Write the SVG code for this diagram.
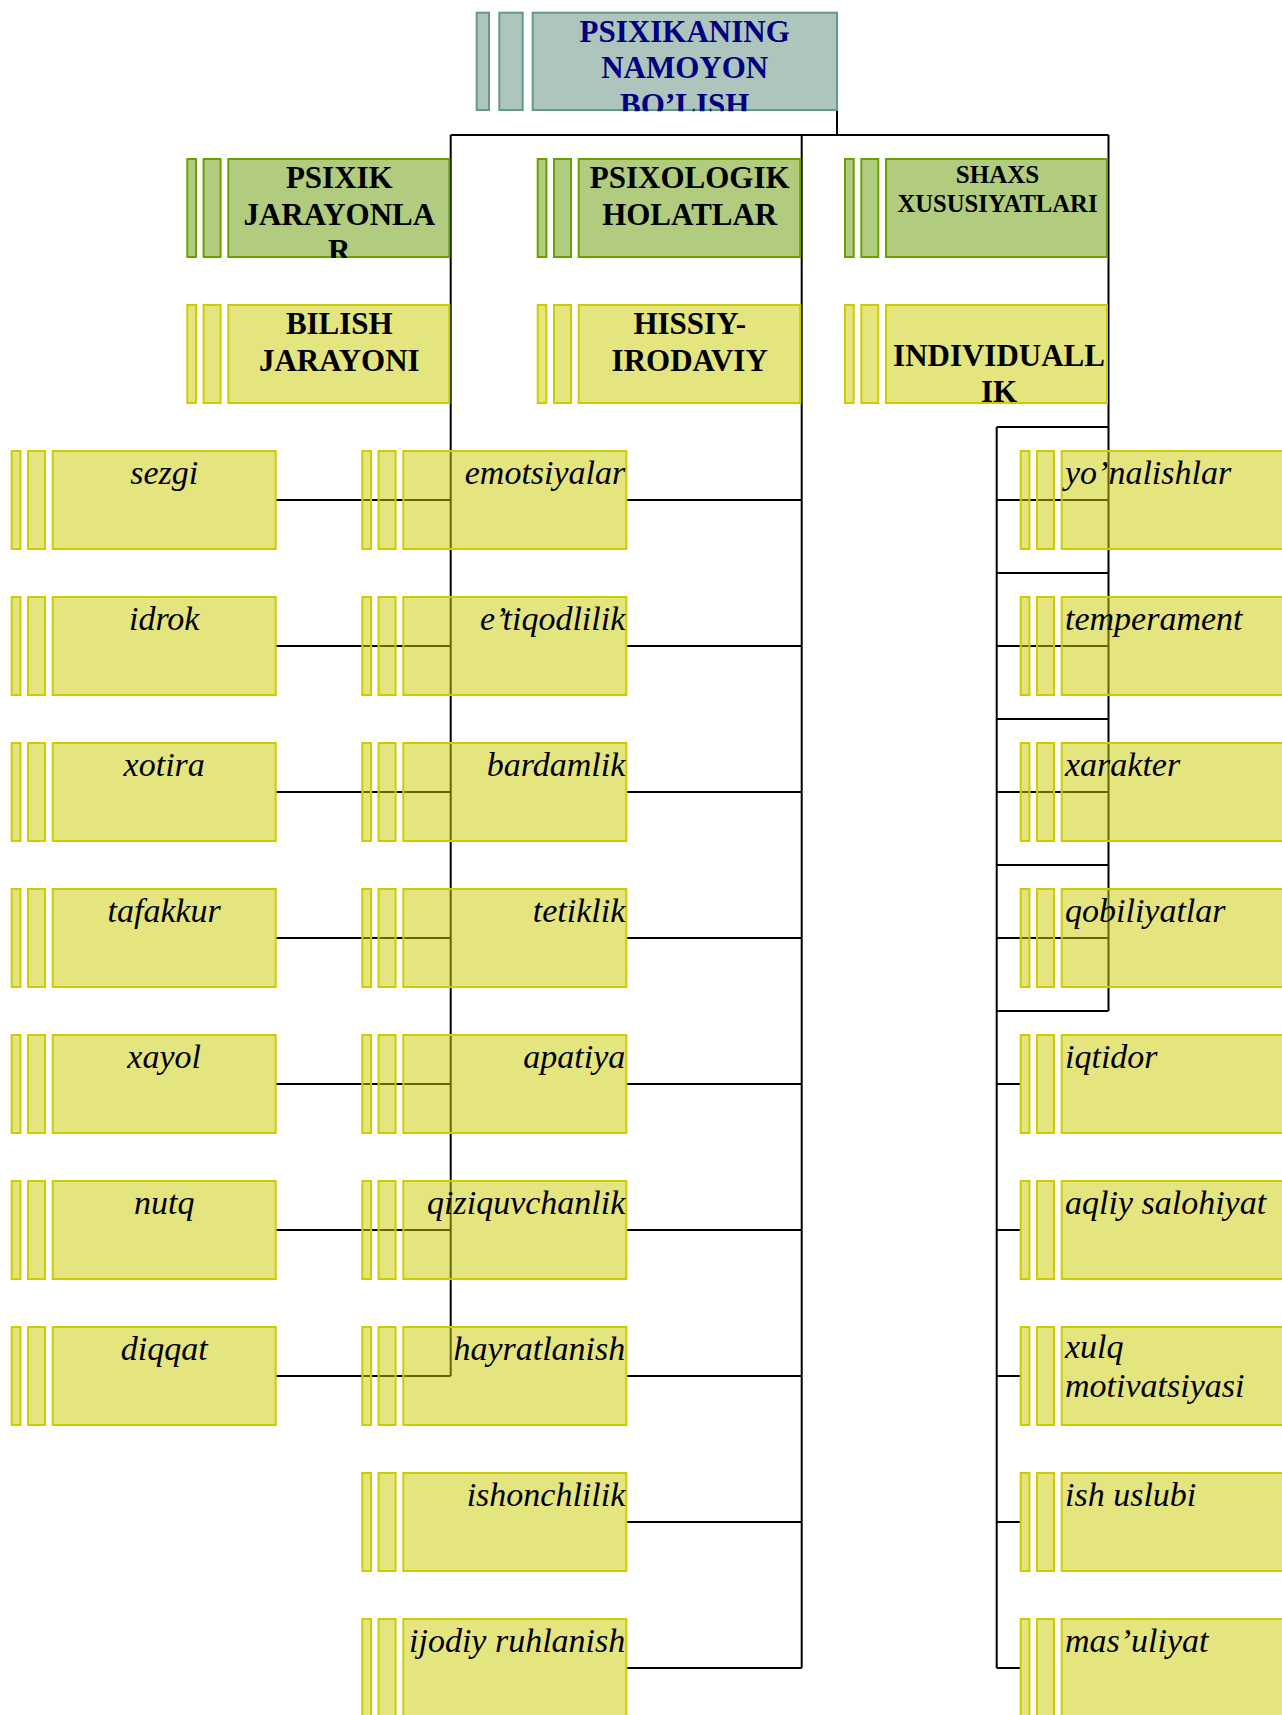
<svg xmlns="http://www.w3.org/2000/svg" xmlns:xlink="http://www.w3.org/1999/xlink" width="1282" height="1715" viewBox="0 0 1282 1715">
  <style>
    .conn { fill: none; stroke: #000; stroke-width: 2; }
    .y { fill: #cccc00; fill-opacity: 0.5; stroke: #cccc00; stroke-width: 2; }
    .g { fill: #669900; fill-opacity: 0.5; stroke: #6aa000; stroke-width: 2; }
    .r { fill: #aec5bd; stroke: #669985; stroke-width: 2; }
    .hd { font-family: "Liberation Serif", "Times New Roman", serif; font-weight: bold; font-size: 31px; text-anchor: middle; fill: #000; }
    .root { fill: #000080; }
    .it { font-family: "Liberation Serif", "Times New Roman", serif; font-style: italic; font-size: 34px; fill: #000; }
    .mid { text-anchor: middle; }
    .end { text-anchor: end; }
  </style>
  <defs>
    <!-- the pair of narrow stripes in front of every box -->
    <g id="bars-y">
      <rect class="y" x="0" y="0" width="8.7" height="98"/>
      <rect class="y" x="16.3" y="0" width="17" height="98"/>
    </g>
    <g id="bars-g">
      <rect class="g" x="0" y="0" width="8.7" height="98"/>
      <rect class="g" x="16.3" y="0" width="17" height="98"/>
    </g>
    <clipPath id="clip-main" clipPathUnits="userSpaceOnUse">
      <rect x="40" y="-1" width="225" height="100"/>
    </clipPath>
    <clipPath id="clip-root" clipPathUnits="userSpaceOnUse">
      <rect x="55" y="-1" width="306" height="99.5"/>
    </clipPath>
  </defs>

  <!-- connectors (drawn first so the translucent boxes tint them) -->
  <g id="connectors" class="conn">
    <path d="M837,110 V135 M450.7,135 H1108.5"/>
    <!-- cognitive processes -->
    <path d="M450.7,135 V1376"/>
    <path d="M276,500 H450.7 M276,646 H450.7 M276,792 H450.7 M276,938 H450.7 M276,1084 H450.7 M276,1230 H450.7 M276,1376 H450.7"/>
    <!-- emotional-volitional states -->
    <path d="M801.7,135 V1668"/>
    <path d="M626.7,500 H801.7 M626.7,646 H801.7 M626.7,792 H801.7 M626.7,938 H801.7 M626.7,1084 H801.7 M626.7,1230 H801.7 M626.7,1376 H801.7 M626.7,1522 H801.7 M626.7,1668 H801.7"/>
    <!-- individuality -->
    <path d="M1108.5,135 V1011"/>
    <path d="M996.7,427 V1668"/>
    <path d="M996.7,427 H1108.5 M996.7,573 H1108.5 M996.7,719 H1108.5 M996.7,865 H1108.5 M996.7,1011 H1108.5"/>
    <path d="M996.7,500 H1108.5 M996.7,646 H1108.5 M996.7,792 H1108.5 M996.7,938 H1108.5"/>
    <path d="M996.7,1084 H1020.7 M996.7,1230 H1020.7 M996.7,1376 H1020.7 M996.7,1522 H1020.7 M996.7,1668 H1020.7"/>
  </g>

  <!-- root -->
  <g id="n-root" transform="translate(476.7,12.7)">
    <rect class="r" x="0" y="0" width="12.3" height="97.3"/>
    <rect class="r" x="22.6" y="0" width="23.4" height="97.3"/>
    <rect class="r" x="56" y="0" width="304.3" height="97.3"/>
    <text class="hd root" clip-path="url(#clip-root)"><tspan x="208" y="29.6">PSIXIKANING</tspan><tspan x="208" y="65.8">NAMOYON</tspan><tspan x="208" y="102">BO’LISH</tspan></text>
  </g>

  <!-- second level -->
  <g id="n-psixik-jarayonlar" transform="translate(187.3,159)">
    <use xlink:href="#bars-g"/>
    <rect class="g" x="41" y="0" width="221" height="98"/>
    <text class="hd" clip-path="url(#clip-main)"><tspan x="152" y="29.3">PSIXIK</tspan><tspan x="152" y="65.5">JARAYONLA</tspan><tspan x="152" y="101.5">R</tspan></text>
  </g>
  <g id="n-psixologik-holatlar" transform="translate(537.7,159)">
    <use xlink:href="#bars-g"/>
    <rect class="g" x="41" y="0" width="221.5" height="98"/>
    <text class="hd"><tspan x="152" y="29.3">PSIXOLOGIK</tspan><tspan x="152" y="65.5">HOLATLAR</tspan></text>
  </g>
  <g id="n-shaxs-xususiyatlari" transform="translate(845,159)">
    <use xlink:href="#bars-g"/>
    <rect class="g" x="41" y="0" width="221" height="98"/>
    <text class="hd" style="font-size:25px"><tspan x="152.5" y="23.7">SHAXS</tspan><tspan x="152.5" y="52.7" textLength="200" lengthAdjust="spacingAndGlyphs">XUSUSIYATLARI</tspan></text>
  </g>

  <!-- third level -->
  <g id="n-bilish-jarayoni" transform="translate(187.3,305)">
    <use xlink:href="#bars-y"/>
    <rect class="y" x="41" y="0" width="221" height="98"/>
    <text class="hd"><tspan x="152" y="29">BILISH</tspan><tspan x="152" y="66.3">JARAYONI</tspan></text>
  </g>
  <g id="n-hissiy-irodaviy" transform="translate(537.7,305)">
    <use xlink:href="#bars-y"/>
    <rect class="y" x="41" y="0" width="221.5" height="98"/>
    <text class="hd"><tspan x="152" y="29">HISSIY-</tspan><tspan x="152" y="66.3">IRODAVIY</tspan></text>
  </g>
  <g id="n-individuallik" transform="translate(845,305)">
    <use xlink:href="#bars-y"/>
    <rect class="y" x="41" y="0" width="221" height="98"/>
    <text class="hd" clip-path="url(#clip-main)"><tspan x="154" y="60.7">INDIVIDUALL</tspan><tspan x="154" y="96.7">IK</tspan></text>
  </g>

  <!-- cognitive processes column -->
  <g id="n-sezgi" transform="translate(11.7,451)"><use xlink:href="#bars-y"/><rect class="y" x="41" y="0" width="223" height="98"/><text class="it mid" x="152.5" y="33.3">sezgi</text></g>
  <g id="n-idrok" transform="translate(11.7,597)"><use xlink:href="#bars-y"/><rect class="y" x="41" y="0" width="223" height="98"/><text class="it mid" x="152.5" y="33.3">idrok</text></g>
  <g id="n-xotira" transform="translate(11.7,743)"><use xlink:href="#bars-y"/><rect class="y" x="41" y="0" width="223" height="98"/><text class="it mid" x="152.5" y="33.3">xotira</text></g>
  <g id="n-tafakkur" transform="translate(11.7,889)"><use xlink:href="#bars-y"/><rect class="y" x="41" y="0" width="223" height="98"/><text class="it mid" x="152.5" y="33.3">tafakkur</text></g>
  <g id="n-xayol" transform="translate(11.7,1035)"><use xlink:href="#bars-y"/><rect class="y" x="41" y="0" width="223" height="98"/><text class="it mid" x="152.5" y="33.3">xayol</text></g>
  <g id="n-nutq" transform="translate(11.7,1181)"><use xlink:href="#bars-y"/><rect class="y" x="41" y="0" width="223" height="98"/><text class="it mid" x="152.5" y="33.3">nutq</text></g>
  <g id="n-diqqat" transform="translate(11.7,1327)"><use xlink:href="#bars-y"/><rect class="y" x="41" y="0" width="223" height="98"/><text class="it mid" x="152.5" y="33.3">diqqat</text></g>

  <!-- emotional-volitional column -->
  <g id="n-emotsiyalar" transform="translate(362.3,451)"><use xlink:href="#bars-y"/><rect class="y" x="41" y="0" width="223" height="98"/><text class="it end" x="263" y="33.3">emotsiyalar</text></g>
  <g id="n-etiqodlilik" transform="translate(362.3,597)"><use xlink:href="#bars-y"/><rect class="y" x="41" y="0" width="223" height="98"/><text class="it end" x="263" y="33.3">e’tiqodlilik</text></g>
  <g id="n-bardamlik" transform="translate(362.3,743)"><use xlink:href="#bars-y"/><rect class="y" x="41" y="0" width="223" height="98"/><text class="it end" x="263" y="33.3">bardamlik</text></g>
  <g id="n-tetiklik" transform="translate(362.3,889)"><use xlink:href="#bars-y"/><rect class="y" x="41" y="0" width="223" height="98"/><text class="it end" x="263" y="33.3">tetiklik</text></g>
  <g id="n-apatiya" transform="translate(362.3,1035)"><use xlink:href="#bars-y"/><rect class="y" x="41" y="0" width="223" height="98"/><text class="it end" x="263" y="33.3">apatiya</text></g>
  <g id="n-qiziquvchanlik" transform="translate(362.3,1181)"><use xlink:href="#bars-y"/><rect class="y" x="41" y="0" width="223" height="98"/><text class="it end" x="263" y="33.3">qiziquvchanlik</text></g>
  <g id="n-hayratlanish" transform="translate(362.3,1327)"><use xlink:href="#bars-y"/><rect class="y" x="41" y="0" width="223" height="98"/><text class="it end" x="263" y="33.3">hayratlanish</text></g>
  <g id="n-ishonchlilik" transform="translate(362.3,1473)"><use xlink:href="#bars-y"/><rect class="y" x="41" y="0" width="223" height="98"/><text class="it end" x="263" y="33.3">ishonchlilik</text></g>
  <g id="n-ijodiy-ruhlanish" transform="translate(362.3,1619)"><use xlink:href="#bars-y"/><rect class="y" x="41" y="0" width="223" height="98"/><text class="it end" x="263" y="33.3">ijodiy ruhlanish</text></g>

  <!-- individuality column -->
  <g id="n-yonalishlar" transform="translate(1020.7,451)"><use xlink:href="#bars-y"/><rect class="y" x="41" y="0" width="223" height="98"/><text class="it" x="44.3" y="33.3">yo’nalishlar</text></g>
  <g id="n-temperament" transform="translate(1020.7,597)"><use xlink:href="#bars-y"/><rect class="y" x="41" y="0" width="223" height="98"/><text class="it" x="44.3" y="33.3">temperament</text></g>
  <g id="n-xarakter" transform="translate(1020.7,743)"><use xlink:href="#bars-y"/><rect class="y" x="41" y="0" width="223" height="98"/><text class="it" x="44.3" y="33.3">xarakter</text></g>
  <g id="n-qobiliyatlar" transform="translate(1020.7,889)"><use xlink:href="#bars-y"/><rect class="y" x="41" y="0" width="223" height="98"/><text class="it" x="44.3" y="33.3">qobiliyatlar</text></g>
  <g id="n-iqtidor" transform="translate(1020.7,1035)"><use xlink:href="#bars-y"/><rect class="y" x="41" y="0" width="223" height="98"/><text class="it" x="44.3" y="33.3">iqtidor</text></g>
  <g id="n-aqliy-salohiyat" transform="translate(1020.7,1181)"><use xlink:href="#bars-y"/><rect class="y" x="41" y="0" width="223" height="98"/><text class="it" x="44.3" y="33.3">aqliy salohiyat</text></g>
  <g id="n-xulq-motivatsiyasi" transform="translate(1020.7,1327)"><use xlink:href="#bars-y"/><rect class="y" x="41" y="0" width="223" height="98"/><text class="it"><tspan x="44.3" y="30.7">xulq</tspan><tspan x="44.3" y="70.3">motivatsiyasi</tspan></text></g>
  <g id="n-ish-uslubi" transform="translate(1020.7,1473)"><use xlink:href="#bars-y"/><rect class="y" x="41" y="0" width="223" height="98"/><text class="it" x="44.3" y="33.3">ish uslubi</text></g>
  <g id="n-masuliyat" transform="translate(1020.7,1619)"><use xlink:href="#bars-y"/><rect class="y" x="41" y="0" width="223" height="98"/><text class="it" x="44.3" y="33.3">mas’uliyat</text></g>
</svg>
